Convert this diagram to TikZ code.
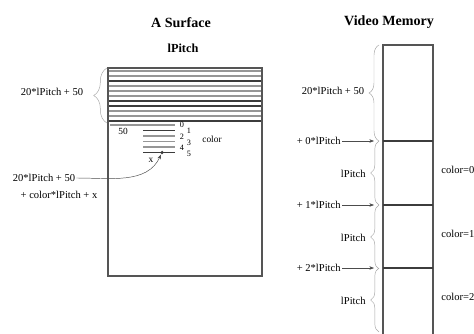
\documentclass[tikz,border=0pt]{standalone}
\usepackage{fontspec}
\setmainfont{Liberation Serif}
\usetikzlibrary{arrows.meta,decorations.pathreplacing}
\definecolor{rowdark}{RGB}{60,60,60}
\definecolor{rowlight}{RGB}{150,150,150}
\definecolor{bracegray}{RGB}{165,165,165}
\definecolor{boxgray}{RGB}{85,85,85}

\begin{document}
\begin{tikzpicture}[x=0.3mm, y=-0.3mm,
    every node/.style={font=\fontsize{9}{10}\selectfont, inner sep=1pt},
    heading/.style={font=\fontsize{12}{14}\selectfont\bfseries},
    bracket/.style={bracegray, thin, decorate, decoration={brace, amplitude=#1}},
    pointer/.style={-{Stealth[length=4pt,width=3pt]}, black!70, thin}]
  \useasboundingbox (0,0) rectangle (474,333);

  % the surface
  \node[heading] (surftitle) at (181,23) {A Surface};
  \node[font=\fontsize{10.5}{12}\selectfont\bfseries] (surfpitch) at (183,48) {lPitch};
  \foreach \k/\c in {0/rowlight,1/rowlight,2/rowdark,3/rowlight,4/rowlight,5/rowlight,
                     6/rowdark,7/rowdark,8/rowlight,9/rowlight,10/rowdark}
    \draw[\c, line width=1.2pt] (108,71+5*\k) -- (262,71+5*\k);
  \draw[rowlight, line width=1.2pt] (110,125) -- (175,125);
  \foreach \k/\c in {1/rowdark,2/rowlight,3/rowlight,4/rowlight,5/rowdark}
    \draw[\c, line width=1.2pt] (143,125+5.5*\k) -- (175,125+5.5*\k);
  \draw[boxgray, line width=1.2pt] (108,68) rectangle (262,276);
  \coordinate (dot) at (162,152.5);
  \fill[rowdark] (dot) circle (1.5pt);
  \foreach \k in {0,...,5}
    \node[font=\fontsize{7}{7}\selectfont] (idx\k) at ({182+7*mod(\k,2)},125+5.8*\k) {\k};
  \node[font=\fontsize{8}{9}\selectfont] (colorlbl) at (212,139) {color};
  \node[font=\fontsize{8}{9}\selectfont] (fifty) at (123,131) {50};
  \node[font=\fontsize{8}{9}\selectfont] (xlbl) at (151,160) {x};

  \draw[bracket=4mm] (107,123) -- (107,68);
  \node (toprows) at (52,92) {20*lPitch + 50};
  \node (addr) at (44,178) {20*lPitch + 50};
  \node (addr2) at (59,195) {+ color*lPitch + x};
  \draw[pointer, shorten >=2pt] (addr.east) to[out=0, in=-115] (dot);

  % video memory
  \node[heading] (vmtitle) at (389,22) {Video Memory};
  \draw[boxgray, line width=1.2pt] (383,345) -- (383,45) -- (433,45) -- (433,345);
  \draw[bracket=3mm] (379,141) -- (379,45);
  \node (vmoffset) at (333,91) {20*lPitch + 50};
  \foreach \k/\y in {0/141,1/205,2/268} {
    \draw[rowdark, line width=1.4pt] (383,\y) -- (433,\y);
    \draw[bracket=2.5mm] (379,\y+64) -- (379,\y);
    \node[anchor=east] (pitch\k) at (342,\y) {+ \k*lPitch};
    \coordinate (mark\k) at (374,\y);
    \draw[pointer] (pitch\k) -- (mark\k);
    \node[anchor=east] (rowlen\k) at (367,\y+33) {lPitch};
    \node[anchor=west] (sel\k) at (440,\y+29) {color=\k};
  }
\end{tikzpicture}
\end{document}
